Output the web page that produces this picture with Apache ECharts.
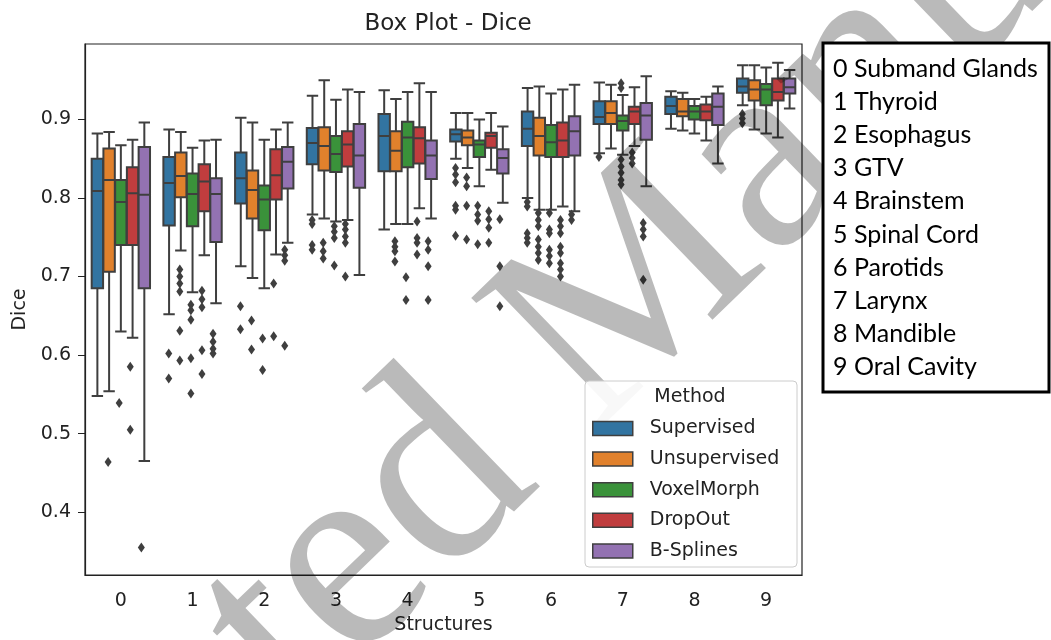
<!DOCTYPE html>
<html>
<head>
<meta charset="utf-8">
<title>Box Plot - Dice</title>
<script src="https://cdn.jsdelivr.net/npm/echarts@6/dist/echarts.min.js"></script>
<style>
  html, body { margin: 0; padding: 0; background: #fff; }
  #chart { width: 1051px; height: 640px; }
</style>
</head>
<body>
<div id="chart"></div>
<script>
const structures = ['0', '1', '2', '3', '4', '5', '6', '7', '8', '9'];
const structureNames = [
  '0 Submand Glands', '1 Thyroid', '2 Esophagus', '3 GTV', '4 Brainstem',
  '5 Spinal Cord', '6 Parotids', '7 Larynx', '8 Mandible', '9 Oral Cavity'
];
const methods = ['Supervised', 'Unsupervised', 'VoxelMorph', 'DropOut', 'B-Splines'];
const colors = ['#3274a1', '#e1812c', '#3a923a', '#c03d3e', '#9372b2'];
const yTicks = [0.4, 0.5, 0.6, 0.7, 0.8, 0.9];

// [low whisker, Q1, median, Q3, high whisker] for structures 0..9
const supervisedBoxes = [
  [0.548, 0.685, 0.809, 0.850, 0.882], [0.652, 0.765, 0.819, 0.852, 0.887],
  [0.713, 0.793, 0.825, 0.858, 0.902], [0.779, 0.843, 0.870, 0.889, 0.930],
  [0.760, 0.834, 0.879, 0.907, 0.937], [0.850, 0.872, 0.881, 0.887, 0.908],
  [0.800, 0.866, 0.888, 0.910, 0.940], [0.857, 0.894, 0.903, 0.923, 0.947],
  [0.888, 0.907, 0.917, 0.929, 0.936], [0.918, 0.934, 0.942, 0.952, 0.969]
];
const unsupervisedBoxes = [
  [0.554, 0.706, 0.823, 0.863, 0.884], [0.733, 0.801, 0.828, 0.858, 0.884],
  [0.698, 0.774, 0.810, 0.835, 0.896], [0.774, 0.835, 0.866, 0.890, 0.950],
  [0.767, 0.834, 0.860, 0.885, 0.926], [0.838, 0.867, 0.877, 0.886, 0.908],
  [0.785, 0.854, 0.879, 0.902, 0.942], [0.863, 0.894, 0.908, 0.923, 0.944],
  [0.886, 0.904, 0.910, 0.926, 0.934], [0.887, 0.924, 0.938, 0.950, 0.969]
];
const voxelMorphBoxes = [
  [0.630, 0.740, 0.795, 0.823, 0.867], [0.680, 0.764, 0.805, 0.831, 0.864],
  [0.685, 0.759, 0.798, 0.816, 0.874], [0.770, 0.833, 0.856, 0.879, 0.925],
  [0.767, 0.839, 0.877, 0.897, 0.935], [0.815, 0.852, 0.868, 0.873, 0.900],
  [0.785, 0.852, 0.871, 0.893, 0.933], [0.855, 0.886, 0.898, 0.905, 0.931],
  [0.882, 0.900, 0.910, 0.917, 0.926], [0.882, 0.918, 0.938, 0.945, 0.966]
];
const dropOutBoxes = [
  [0.622, 0.740, 0.806, 0.839, 0.874], [0.727, 0.783, 0.821, 0.843, 0.873],
  [0.728, 0.798, 0.829, 0.862, 0.887], [0.772, 0.840, 0.868, 0.885, 0.938],
  [0.787, 0.844, 0.876, 0.890, 0.946], [0.836, 0.864, 0.879, 0.883, 0.908],
  [0.789, 0.852, 0.873, 0.896, 0.938], [0.866, 0.894, 0.910, 0.916, 0.941],
  [0.873, 0.899, 0.910, 0.919, 0.929], [0.877, 0.924, 0.935, 0.952, 0.972]
];
const bSplinesBoxes = [
  [0.465, 0.685, 0.804, 0.865, 0.896], [0.666, 0.744, 0.805, 0.825, 0.874],
  [0.743, 0.812, 0.846, 0.865, 0.896], [0.702, 0.813, 0.854, 0.894, 0.935],
  [0.774, 0.824, 0.854, 0.873, 0.935], [0.794, 0.831, 0.851, 0.862, 0.891],
  [0.783, 0.854, 0.885, 0.904, 0.944], [0.815, 0.874, 0.905, 0.921, 0.955],
  [0.844, 0.893, 0.916, 0.933, 0.942], [0.914, 0.933, 0.941, 0.952, 0.963]
];

// outliers: [structure index, dice]
const supervisedOutliers = [
  [1, 0.602], [1, 0.570], [2, 0.662], [2, 0.633],
  [3, 0.772], [3, 0.767], [3, 0.740], [3, 0.734],
  [5, 0.838], [5, 0.830], [5, 0.820], [5, 0.790], [5, 0.785], [5, 0.752],
  [6, 0.795], [6, 0.789], [6, 0.755], [6, 0.749], [6, 0.743],
  [7, 0.852], [9, 0.907], [9, 0.901], [9, 0.895]
];
const unsupervisedOutliers = [
  [0, 0.464],
  [1, 0.709], [1, 0.700], [1, 0.691], [1, 0.681], [1, 0.631], [1, 0.593],
  [2, 0.644], [2, 0.607],
  [3, 0.743], [3, 0.732], [3, 0.723],
  [4, 0.745], [4, 0.738], [4, 0.732], [4, 0.719],
  [5, 0.826], [5, 0.815], [5, 0.790], [5, 0.747],
  [6, 0.781], [6, 0.772], [6, 0.764], [6, 0.747], [6, 0.738], [6, 0.730], [6, 0.721]
];
const voxelMorphOutliers = [
  [0, 0.539],
  [1, 0.664], [1, 0.657], [1, 0.645], [1, 0.596], [1, 0.551],
  [2, 0.621], [2, 0.581],
  [3, 0.764], [3, 0.757], [3, 0.749], [3, 0.714],
  [4, 0.699], [4, 0.670],
  [5, 0.790], [5, 0.779], [5, 0.771], [5, 0.741],
  [6, 0.781], [6, 0.760], [6, 0.755], [6, 0.734], [6, 0.726], [6, 0.717],
  [7, 0.946], [7, 0.940], [7, 0.849], [7, 0.840], [7, 0.832], [7, 0.823], [7, 0.817]
];
const dropOutOutliers = [
  [0, 0.585], [0, 0.505],
  [1, 0.682], [1, 0.671], [1, 0.661], [1, 0.606], [1, 0.576],
  [2, 0.691], [2, 0.624],
  [3, 0.767], [3, 0.760], [3, 0.751], [3, 0.743], [3, 0.700],
  [4, 0.770], [4, 0.749], [4, 0.743], [4, 0.728],
  [5, 0.783], [5, 0.773], [5, 0.762], [5, 0.743],
  [6, 0.772], [6, 0.764], [6, 0.755], [6, 0.738], [6, 0.730], [6, 0.717], [6, 0.709], [6, 0.700],
  [7, 0.858], [7, 0.851], [7, 0.844]
];
const bSplinesOutliers = [
  [0, 0.355],
  [1, 0.627], [1, 0.617], [1, 0.608], [1, 0.602],
  [2, 0.734], [2, 0.727], [2, 0.720], [2, 0.612],
  [4, 0.745], [4, 0.734], [4, 0.713], [4, 0.670],
  [5, 0.773], [5, 0.713], [5, 0.662],
  [6, 0.779], [6, 0.772],
  [7, 0.768], [7, 0.760], [7, 0.751], [7, 0.696]
];

const boxesByMethod = [supervisedBoxes, unsupervisedBoxes, voxelMorphBoxes, dropOutBoxes, bSplinesBoxes];
const outliersByMethod = [supervisedOutliers, unsupervisedOutliers, voxelMorphOutliers, dropOutOutliers, bSplinesOutliers];

const GRID = { left: 85, top: 44, width: 717, height: 538 };
const lineColor = '#3f3f3f';
const font = 'DejaVu Sans';

// same side-by-side split that the boxplot layout uses, so fliers sit on their box
const band = GRID.width / structures.length;
const avail = band * 0.8 - 2;
const slot = avail / methods.length;
const firstOffset = (slot - slot * 0.3) / 2 - avail / 2;
const offsets = methods.map((m, i) => firstOffset + i * slot);

const chart = echarts.init(document.getElementById('chart'));

const boxSeries = methods.map((name, i) => ({
  name: name,
  type: 'boxplot',
  data: boxesByMethod[i],
  boxWidth: [11.4, 11.4],
  itemStyle: { color: colors[i], borderColor: lineColor, borderWidth: 2 },
  emphasis: { disabled: true },
  z: 2
}));

const flierSeries = methods.map((name, i) => ({
  name: name + ' outliers',
  type: 'scatter',
  data: outliersByMethod[i],
  symbol: 'diamond',
  symbolSize: [7, 10],
  symbolOffset: [offsets[i], 0],
  itemStyle: { color: lineColor, opacity: 1 },
  emphasis: { disabled: true },
  z: 3
}));

const listTexts = structureNames.map((t, i) => ({
  type: 'text',
  x: 833,
  y: 69 + i * 33.1,
  style: { text: t, font: '25px Lato', fill: '#000', verticalAlign: 'middle' },
  z: 130
}));

const option = {
  animation: false,
  backgroundColor: '#fff',
  title: {
    text: 'Box Plot - Dice',
    left: 443,
    top: 8,
    textAlign: 'center',
    textStyle: { fontFamily: font, fontSize: 23, fontWeight: 'normal', color: '#222' }
  },
  grid: { left: GRID.left, top: GRID.top, width: GRID.width, height: GRID.height,
          show: true, borderColor: '#222', borderWidth: 1.2, backgroundColor: 'transparent' },
  legend: {
    data: methods.map((m, i) => ({
      name: m,
      itemStyle: { color: colors[i], borderColor: lineColor, borderWidth: 1.5 }
    })),
    orient: 'vertical',
    left: 592,
    top: 419,
    padding: 0,
    icon: 'rect',
    itemWidth: 40,
    itemHeight: 14,
    itemGap: 11.6,
    selectedMode: false,
    z: 120,
    textStyle: { fontFamily: font, fontSize: 19, color: '#222', lineHeight: 19, padding: [0, 0, 0, 12] }
  },
  xAxis: {
    type: 'category',
    data: structures,
    name: 'Structures',
    nameLocation: 'middle',
    nameGap: 41,
    nameTextStyle: { fontFamily: font, fontSize: 19, color: '#222' },
    axisLine: { lineStyle: { color: '#222', width: 1.2 } },
    axisTick: { alignWithLabel: true, length: 7, lineStyle: { color: '#222' } },
    axisLabel: { fontFamily: font, fontSize: 19, color: '#222', margin: 17 },
    splitLine: { show: false }
  },
  yAxis: {
    type: 'value',
    min: 0.32,
    max: 0.996,
    name: 'Dice',
    nameLocation: 'middle',
    nameGap: 55,
    nameTextStyle: { fontFamily: font, fontSize: 19, color: '#222' },
    axisLine: { show: true, lineStyle: { color: '#222', width: 1.2 } },
    axisTick: { show: true, length: 7, customValues: yTicks, lineStyle: { color: '#222' } },
    axisLabel: { fontFamily: font, fontSize: 19, color: '#222', margin: 14,
                 customValues: yTicks, formatter: v => v.toFixed(1) },
    splitLine: { show: false }
  },
  graphic: [
    { type: 'text', x: 595, y: 331, rotation: 0.768, silent: true,
      style: { text: 'Accepted Manuscript', font: '280px "Liberation Serif"', fill: 'rgba(0,0,0,0.27)',
               align: 'center', verticalAlign: 'middle' }, z: 100 },
    { type: 'rect', shape: { x: 585, y: 381, width: 212, height: 186, r: 4 },
      style: { fill: 'rgba(255,255,255,0.9)', stroke: '#cccccc', lineWidth: 1 }, z: 110 },
    { type: 'text', x: 690, y: 397,
      style: { text: 'Method', font: '19px "DejaVu Sans"', fill: '#222', align: 'center', verticalAlign: 'middle' }, z: 115 },
    { type: 'rect', shape: { x: 823, y: 43, width: 226, height: 349 },
      style: { fill: '#fff', stroke: '#000', lineWidth: 3 }, z: 125 },
    ...listTexts
  ],
  series: [...boxSeries, ...flierSeries]
};

chart.setOption(option);
</script>
</body>
</html>
